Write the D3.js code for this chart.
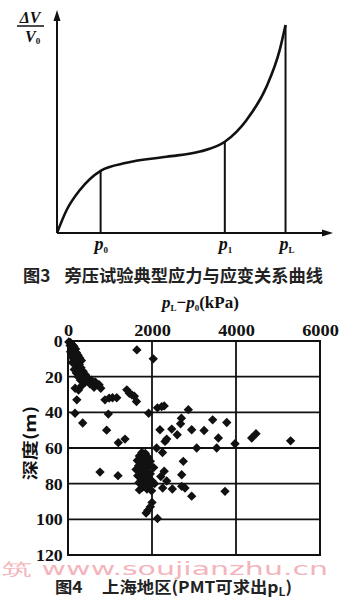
<!DOCTYPE html>
<html>
<head>
<meta charset="utf-8">
<script src="https://cdn.jsdelivr.net/npm/d3@7"></script>
<style>
  html, body { margin: 0; padding: 0; background: #fff; }
  svg { display: block; }
  .serif { font-family: "Liberation Serif", "DejaVu Serif", serif; }
  .cjk { font-family: "Noto Sans CJK SC", "Noto Sans", sans-serif; font-weight: 700; }
</style>
</head>
<body>
<svg id="chart" width="340" height="600"></svg>
<script>
// ---- Figure 3: typical pressuremeter curve (pressure vs. relative volume change) ----
const curvePressure = [0, 3.5, 8.3, 15.8, 25.2, 39.7, 51.8, 60.8, 68.7, 75.9, 80.7, 82.8];
const curveVolume   = [0, 10.3, 19.3, 27.9, 31.5, 34.2, 36.5, 40.9, 50.7, 65.6, 82.1, 93.3];
const keyPressures  = [
  { name: "p", sub: "0", index: 3 },
  { name: "p", sub: "1", index: 7 },
  { name: "p", sub: "L", index: 11 }
];

// ---- Figure 4: Shanghai PMT results, (pL - p0) in kPa against depth in m ----
const xTicks = [0, 2000, 4000, 6000];
const yTicks = [0, 20, 40, 60, 80, 100, 120];
const pressureDiff = [
  20, 60, 100, 50, 140, 90, 180, 130, 60, 200, 160, 240, 90, 190, 280, 130, 230, 320, 100, 180,
  270, 210, 310, 150, 260, 360, 200, 300, 420, 240, 360, 480, 300, 560, 410, 650, 520, 740, 330, 620,
  780, 170, 250, 210, 880, 980, 1060, 1160, 1400, 1460, 1520, 1580, 1630, 1640, 2030,
  167, 960, 1920, 2130, 2230, 2290, 2865,
  350, 920, 2700, 2680, 2190, 2470, 2600, 2945, 3240, 3445, 3780, 3580, 3540, 3976, 4374, 4476, 5300,
  2310, 2350, 2110, 2250, 3064, 1198, 1357,
  2745, 2707, 2290, 2210, 2350, 2254, 2484, 2707, 2786, 2945, 3738, 762, 1190,
  1760, 1840, 1700, 1900, 1800, 1650, 1960, 1740, 1860, 1680, 1920, 1790, 2040, 1620, 1850, 1720,
  1960, 1660, 1800, 1900, 1740, 2000, 1690, 1840, 1950, 1770, 1700, 1880, 2060, 1990,
  2000, 1960, 1900, 1860, 2130
];
const depth = [
  0.5, 1, 2, 2.5, 3, 4, 4.5, 5.5, 6, 6.5, 7.5, 8, 8.5, 9, 9.5, 10, 11, 11, 12, 12.5,
  13, 14.5, 15, 16, 16.5, 17, 18, 18.5, 19, 20, 20.5, 21, 22, 22, 23, 23, 24, 24.5, 25, 26,
  26.5, 26.5, 27.5, 33, 33, 32, 31.8, 31.8, 27.4, 29.3, 30.2, 31, 33.9, 5, 10,
  40.5, 41, 40.5, 37.5, 36.8, 36.4, 38.5,
  46, 50, 43.3, 46.4, 49.8, 49.4, 52.6, 49.8, 50.2, 44.2, 45.7, 54.4, 60, 57.6, 54.4, 52, 56,
  56.3, 55, 60, 62.5, 60, 57, 55,
  67.5, 75, 73, 76, 78.5, 82.4, 83, 81.5, 82.4, 87, 84.3, 73.5, 75.5,
  62.5, 63, 64.5, 65, 66, 67, 67.5, 68.5, 69, 70, 70.5, 71.5, 71, 72, 73, 74,
  74.5, 75.5, 76, 77, 78, 78.5, 79.5, 80, 81, 82, 83.5, 83, 80, 84,
  90.5, 93, 95, 96.5, 99.5
];

const svg = d3.select("#chart");
const ink = "#111";

// ================= Figure 3 =================
const f3 = svg.append("g");
const px = d3.scaleLinear().domain([0, 100]).range([57, 333]);
const vy = d3.scaleLinear().domain([0, 100]).range([233, 10]);

// axes with arrow heads
f3.append("line").attr("x1", px(0)).attr("y1", vy(0)).attr("x2", px(0)).attr("y2", vy(100) + 4)
  .attr("stroke", ink).attr("stroke-width", 2);
f3.append("line").attr("x1", px(0)).attr("y1", vy(0)).attr("x2", px(100) - 4).attr("y2", vy(0))
  .attr("stroke", ink).attr("stroke-width", 2);
f3.append("path")
  .attr("d", `M${px(0)},${vy(100)} L${px(0) - 3.5},${vy(100) + 11} L${px(0) + 3.5},${vy(100) + 11}Z`)
  .attr("fill", ink);
f3.append("path")
  .attr("d", `M${px(100)},${vy(0)} L${px(100) - 11},${vy(0) - 3.5} L${px(100) - 11},${vy(0) + 3.5}Z`)
  .attr("fill", ink);

// the curve
const curvePts = curvePressure.map((p, i) => [p, curveVolume[i]]);
f3.append("path")
  .datum(curvePts)
  .attr("d", d3.line().x(d => px(d[0])).y(d => vy(d[1])).curve(d3.curveMonotoneX))
  .attr("fill", "none").attr("stroke", ink).attr("stroke-width", 2.6);

// drop lines and labels at p0, p1, pL
keyPressures.forEach(k => {
  const p = curvePressure[k.index], v = curveVolume[k.index];
  f3.append("line").attr("x1", px(p)).attr("x2", px(p)).attr("y1", vy(v)).attr("y2", vy(0))
    .attr("stroke", ink).attr("stroke-width", 2);
  const t = f3.append("text").attr("class", "serif")
    .attr("x", px(p) - 6).attr("y", 250)
    .style("font-size", "18px").style("font-style", "italic").style("font-weight", "700")
    .attr("fill", ink);
  t.append("tspan").text(k.name);
  t.append("tspan").attr("dy", 3).style("font-size", "9px").style("font-style", "normal").text(k.sub);
});

// y label: ΔV / V0
const yl = f3.append("g").attr("class", "serif").style("font-weight", "700").style("font-style", "italic");
yl.append("text").attr("x", 30).attr("y", 23).attr("text-anchor", "middle")
  .style("font-size", "16px").attr("fill", ink).text("ΔV");
yl.append("line").attr("x1", 17).attr("x2", 44).attr("y1", 26).attr("y2", 26)
  .attr("stroke", ink).attr("stroke-width", 1.5);
const v0 = yl.append("text").attr("x", 25).attr("y", 42).style("font-size", "16px").attr("fill", ink);
v0.append("tspan").text("V");
v0.append("tspan").attr("dy", 2).style("font-size", "9px").style("font-style", "normal").text("0");

// caption
const cap3 = f3.append("text").attr("class", "cjk").attr("x", 23).attr("y", 282)
  .style("font-size", "17px").attr("fill", "#222")
  .attr("textLength", 300).attr("lengthAdjust", "spacingAndGlyphs");
cap3.append("tspan").text("图3");
cap3.append("tspan").attr("dx", 14).text("旁压试验典型应力与应变关系曲线");

// ================= Figure 4 =================
const f4 = svg.append("g");
const x = d3.scaleLinear().domain([0, 6000]).range([68, 320]);
const y = d3.scaleLinear().domain([0, 120]).range([341, 555]);

// grid
f4.append("g").selectAll("line").data(xTicks.slice(1, -1)).join("line")
  .attr("x1", d => x(d)).attr("x2", d => x(d)).attr("y1", y(0)).attr("y2", y(120))
  .attr("stroke", ink).attr("stroke-width", 1.8);
f4.append("g").selectAll("line").data(yTicks.slice(1, -1)).join("line")
  .attr("x1", x(0)).attr("x2", x(6000)).attr("y1", d => y(d)).attr("y2", d => y(d))
  .attr("stroke", ink).attr("stroke-width", 1.8);
f4.append("rect").attr("x", x(0)).attr("y", y(0))
  .attr("width", x(6000) - x(0)).attr("height", y(120) - y(0))
  .attr("fill", "none").attr("stroke", ink).attr("stroke-width", 2);

// axes (labels only, the frame carries the lines)
const xAxis = f4.append("g").attr("transform", `translate(0,${y(0)})`)
  .call(d3.axisTop(x).tickValues(xTicks).tickSize(0).tickPadding(5).tickFormat(d3.format("d")));
const yAxis = f4.append("g").attr("transform", `translate(${x(0)},0)`)
  .call(d3.axisLeft(y).tickValues(yTicks).tickSize(0).tickPadding(5));
[xAxis, yAxis].forEach(a => {
  a.select(".domain").remove();
  a.selectAll("text").attr("class", "serif").style("font-size", "17px")
    .attr("fill", ink).style("font-weight", "700");
});
xAxis.selectAll(".tick text").attr("transform", "scale(1.08,1)");
yAxis.selectAll(".tick text").attr("transform", "scale(1.05,1)");

// x title: pL - p0 (kPa)
const xt = f4.append("text").attr("class", "serif").attr("x", 162).attr("y", 308)
  .style("font-size", "17px").style("font-weight", "700").attr("fill", ink);
xt.append("tspan").style("font-style", "italic").text("p");
xt.append("tspan").attr("dy", 3).style("font-size", "9px").text("L");
xt.append("tspan").attr("dy", -3).text("−");
xt.append("tspan").style("font-style", "italic").text("p");
xt.append("tspan").attr("dy", 3).style("font-size", "9px").text("0");
xt.append("tspan").attr("dy", -3).text("(kPa)");

// y title
f4.append("text").attr("class", "cjk")
  .attr("transform", "translate(30,443) rotate(-90) scale(1.25,1)")
  .attr("text-anchor", "middle").attr("dy", "0.35em").style("font-size", "16px").attr("fill", ink)
  .text("深度(m)");

// points
const pts = pressureDiff.map((v, i) => ({ v, d: depth[i] }));
f4.append("g").selectAll("path").data(pts).join("path")
  .attr("d", d3.symbol(d3.symbolSquare, 44))
  .attr("transform", d => `translate(${x(d.v)},${y(d.d)}) rotate(45)`)
  .attr("fill", ink);

// watermark
svg.append("text").attr("x", 2).attr("y", 575)
  .style("font-family", "'DejaVu Sans', sans-serif").style("font-size", "17px")
  .attr("fill", "#f3b5bb").attr("textLength", 326).attr("lengthAdjust", "spacingAndGlyphs")
  .text("筑  www.soujianzhu.cn");

// caption
const cap4 = svg.append("text").attr("class", "cjk").attr("x", 55).attr("y", 593)
  .style("font-size", "16px").attr("fill", "#222")
  .attr("textLength", 237).attr("lengthAdjust", "spacingAndGlyphs");
cap4.append("tspan").text("图4");
cap4.append("tspan").attr("dx", 18).text("上海地区(PMT可求出p");
cap4.append("tspan").attr("dy", 3).style("font-size", "11px").text("L");
cap4.append("tspan").attr("dy", -3).text(")");
</script>
</body>
</html>
